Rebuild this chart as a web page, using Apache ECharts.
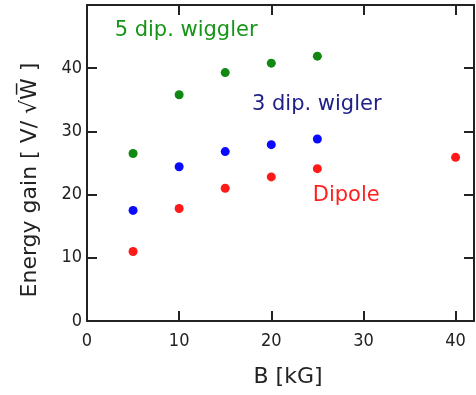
<!DOCTYPE html>
<html>
<head>
<meta charset="utf-8">
<script src="https://cdn.jsdelivr.net/npm/echarts@6/dist/echarts.min.js"></script>
<style>
  html, body { margin: 0; padding: 0; background: #fff; }
  #main { width: 476px; height: 395px; }
</style>
</head>
<body>
<div id="main"></div>
<script>
// B [kG] values
var bField = [5, 10, 15, 20, 25];
var wiggler5 = [26.5, 35.8, 39.3, 40.8, 41.9];
var wiggler3 = [17.5, 24.4, 26.8, 27.9, 28.8];
var dipoleB = [5, 10, 15, 20, 25, 40];
var dipole = [11.0, 17.8, 21.0, 22.8, 24.1, 25.9];

function pairs(xs, ys) {
  return xs.map(function (x, i) { return [x, ys[i]]; });
}

var chart = echarts.init(document.getElementById("main"));

// every axis gets its own fresh objects
function ax(pos, max, extra) {
  return Object.assign({
    type: "value", min: 0, max: max, interval: 10, position: pos,
    axisLine: { show: true, onZero: false, lineStyle: { color: "#222", width: 2 } },
    axisTick: { show: true, inside: true, length: 10, lineStyle: { color: "#222", width: 2 } },
    splitLine: { show: false },
  }, extra || {});
}

function note(text, coord, color) {
  return {
    symbol: "circle",
    symbolSize: 0,
    silent: true,
    data: [{ coord: coord }],
    label: {
      show: true, position: "right", distance: 0, formatter: text,
      color: color, fontFamily: "DejaVu Sans", fontSize: 21,
    },
  };
}

chart.setOption({
  animation: false,
  grid: { left: 87, right: 2, top: 5, bottom: 74 },
  // axis titles
  graphic: [
    {
      type: "text", x: 288, y: 377,
      style: { text: "B [kG]", fill: "#222", fontFamily: "DejaVu Sans", fontSize: 22, align: "center", verticalAlign: "middle" },
    },
    {
      type: "text", x: 30, y: 180, rotation: Math.PI / 2,
      style: { text: "Energy gain [ V/ √W\u0305 ]", fill: "#222", fontFamily: "DejaVu Sans", fontSize: 22, align: "center", verticalAlign: "middle" },
    },
  ],
  xAxis: [
    ax("bottom", 42, { axisLabel: { showMaxLabel: false, margin: 11, color: "#222", fontSize: 18, fontFamily: "DejaVu Sans Condensed" } }),
    ax("top", 42, { axisLabel: { show: false } }),
  ],
  yAxis: [
    ax("left", 50, { axisLabel: { showMaxLabel: false, margin: 5, color: "#222", fontSize: 18, fontFamily: "DejaVu Sans Condensed" } }),
    ax("right", 50, { axisLabel: { show: false } }),
  ],
  series: [
    {
      name: "5 dip. wiggler", type: "scatter", symbolSize: 9,
      itemStyle: { color: "#118811", opacity: 1 },
      data: pairs(bField, wiggler5),
      markPoint: note("5 dip. wiggler", [3.0, 46.0], "#159515"),
    },
    {
      name: "3 dip. wigler", type: "scatter", symbolSize: 9,
      itemStyle: { color: "#0a0aff", opacity: 1 },
      data: pairs(bField, wiggler3),
      markPoint: note("3 dip. wigler", [17.9, 34.2], "#20208a"),
    },
    {
      name: "Dipole", type: "scatter", symbolSize: 9,
      itemStyle: { color: "#ff1a1a", opacity: 1 },
      data: pairs(dipoleB, dipole),
      markPoint: note("Dipole", [24.5, 19.9], "#ff2020"),
    },
    // empty series bound to the top/right axes so the frame is drawn
    { type: "scatter", xAxisIndex: 1, yAxisIndex: 1, data: [] },
  ],
});
</script>
</body>
</html>
